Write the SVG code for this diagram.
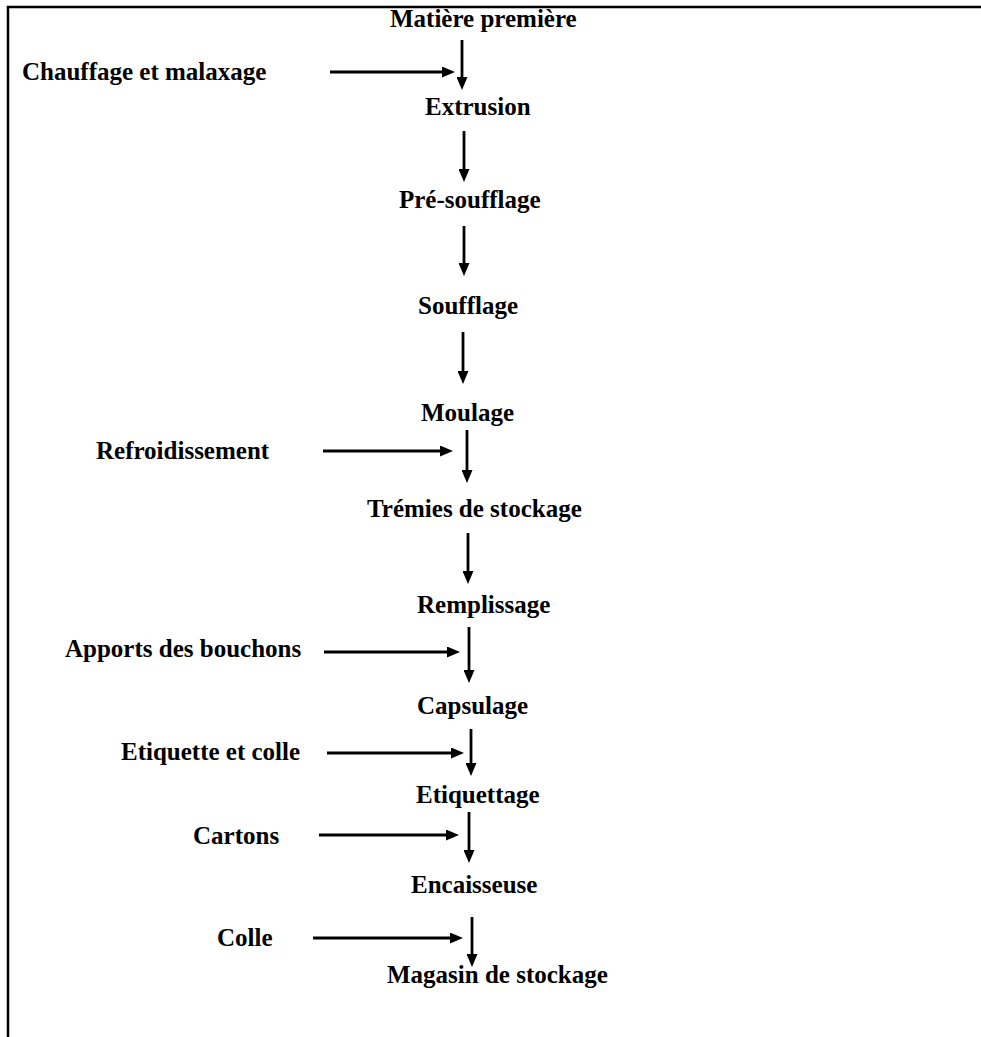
<svg xmlns="http://www.w3.org/2000/svg" width="981" height="1037" viewBox="0 0 981 1037">
<style>
  text { font-family: "Liberation Serif", "Times New Roman", serif; font-weight: bold; font-size: 25px; fill: #000; }
  .conn line { stroke: #000; stroke-width: 2.8; marker-end: url(#ah); }
  .frame { stroke: #000; stroke-width: 2.5; fill: none; }
</style>
<defs>
  <marker id="ah" markerUnits="userSpaceOnUse" markerWidth="13" markerHeight="11" refX="4" refY="5.5" orient="auto">
    <path d="M0,0 L13,5.5 L0,11 z" fill="#000"/>
  </marker>
</defs>
<rect width="981" height="1037" fill="#fff"/>
<polyline class="frame" points="8,1037 8,7 981,7"/>

<g id="n-matiere"><text x="390" y="27">Matière première</text></g>
<g id="n-chauffage"><text x="22" y="80">Chauffage et malaxage</text></g>
<g id="n-extrusion"><text x="425" y="115">Extrusion</text></g>
<g id="n-presoufflage"><text x="399" y="208">Pré-soufflage</text></g>
<g id="n-soufflage"><text x="418" y="314">Soufflage</text></g>
<g id="n-moulage"><text x="421" y="421">Moulage</text></g>
<g id="n-refroid"><text x="96" y="459">Refroidissement</text></g>
<g id="n-tremies"><text x="367" y="517">Trémies de stockage</text></g>
<g id="n-remplissage"><text x="417" y="613">Remplissage</text></g>
<g id="n-apports"><text x="65" y="657">Apports des bouchons</text></g>
<g id="n-capsulage"><text x="417" y="714">Capsulage</text></g>
<g id="n-etiqcolle"><text x="121" y="760">Etiquette et colle</text></g>
<g id="n-etiquettage"><text x="416" y="803">Etiquettage</text></g>
<g id="n-cartons"><text x="193" y="844">Cartons</text></g>
<g id="n-encaisseuse"><text x="411" y="893">Encaisseuse</text></g>
<g id="n-colle"><text x="217" y="946">Colle</text></g>
<g id="n-magasin"><text x="387" y="983">Magasin de stockage</text></g>

<g id="connectors" class="conn">
  <line x1="462" y1="40" x2="462" y2="81"/>
  <line x1="330" y1="72" x2="446" y2="72"/>
  <line x1="464" y1="131" x2="464" y2="173"/>
  <line x1="464" y1="226" x2="464" y2="267"/>
  <line x1="463" y1="332" x2="463" y2="375"/>
  <line x1="467" y1="430" x2="467" y2="474"/>
  <line x1="323" y1="451" x2="444" y2="451"/>
  <line x1="468" y1="533" x2="468" y2="575"/>
  <line x1="469" y1="627" x2="469" y2="674"/>
  <line x1="324" y1="652" x2="451" y2="652"/>
  <line x1="471" y1="729" x2="471" y2="767"/>
  <line x1="327" y1="753" x2="455" y2="753"/>
  <line x1="469" y1="812" x2="469" y2="854"/>
  <line x1="319" y1="835" x2="450" y2="835"/>
  <line x1="472" y1="917" x2="472" y2="958"/>
  <line x1="313" y1="938" x2="454" y2="938"/>
</g>
</svg>
